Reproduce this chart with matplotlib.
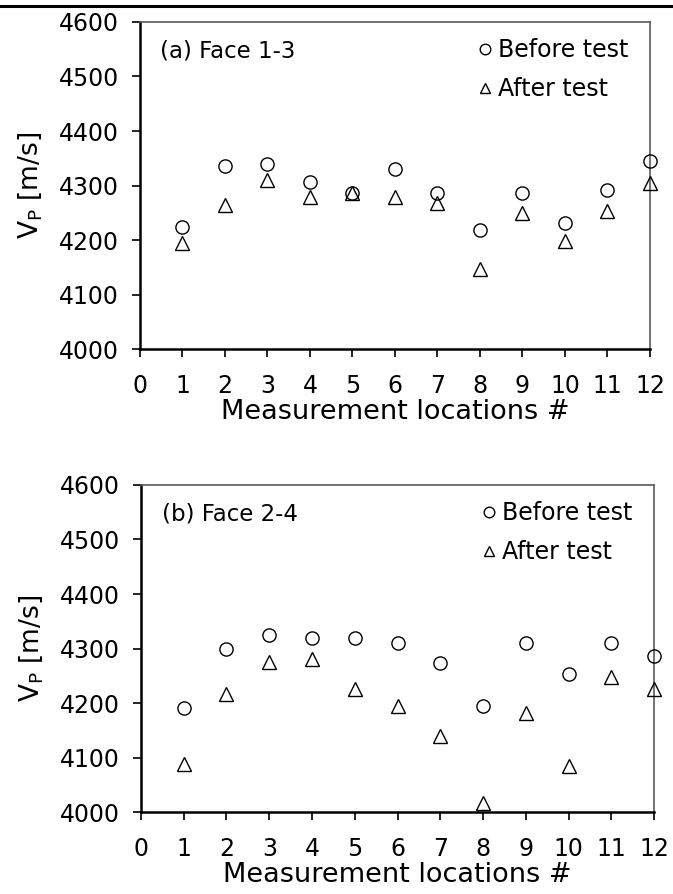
import matplotlib
matplotlib.use("Agg")
import matplotlib.pyplot as plt
from matplotlib.lines import Line2D

locations = list(range(1, 13))
face13_before = [4223, 4336, 4339, 4306, 4287, 4330, 4287, 4218, 4287, 4232, 4292, 4345]
face13_after = [4195, 4264, 4310, 4278, 4287, 4278, 4268, 4146, 4250, 4199, 4254, 4304]
face24_before = [4191, 4300, 4325, 4319, 4319, 4310, 4273, 4194, 4310, 4253, 4310, 4286]
face24_after = [4089, 4216, 4276, 4280, 4225, 4194, 4140, 4017, 4181, 4084, 4248, 4225]
xticks = list(range(0, 13))
yticks = [4000, 4100, 4200, 4300, 4400, 4500, 4600]
panel_titles = ["(a) Face 1-3", "(b) Face 2-4"]
legend_labels = ["Before test", "After test"]
xlabel = "Measurement locations #"
ylabel = r"V$_\mathrm{P}$ [m/s]"

plt.rcParams['font.family'] = ['DejaVu Sans']
plt.rcParams['mathtext.fontset'] = 'dejavusans'

fig = plt.figure(figsize=(6.73, 8.94), dpi=100)
positions = [[0.2080, 0.6096, 0.7578, 0.3658], [0.2095, 0.0917, 0.7623, 0.3658]]
datasets = [(face13_before, face13_after), (face24_before, face24_after)]

for pos, (bef, aft), title in zip(positions, datasets, panel_titles):
    ax = fig.add_axes(pos)
    ax.plot(locations, bef, linestyle='none', marker='o', markersize=9.5,
            markerfacecolor='none', markeredgecolor='black', markeredgewidth=1.0,
            label=legend_labels[0], clip_on=False, zorder=3)
    ax.plot(locations, aft, linestyle='none', marker='^', markersize=9.5,
            markerfacecolor='none', markeredgecolor='black', markeredgewidth=1.0,
            label=legend_labels[1], clip_on=False, zorder=3)
    ax.set_xlim(0, 12)
    ax.set_ylim(4000, 4600)
    ax.set_xticks(xticks)
    ax.set_yticks(yticks)
    ax.tick_params(axis='both', direction='out', length=6, width=1.2,
                   labelsize=17, colors='black')
    ax.tick_params(axis='x', pad=12)
    ax.tick_params(axis='y', pad=9)
    for s in ['left', 'bottom']:
        ax.spines[s].set_linewidth(1.8)
        ax.spines[s].set_color('black')
    for s in ['top', 'right']:
        ax.spines[s].set_linewidth(1.2)
        ax.spines[s].set_color('#5a5a5a')
    ax.set_xlabel(xlabel, fontsize=19.5, labelpad=1)
    ax.set_ylabel(ylabel, fontsize=19, labelpad=11)
    ax.text(0.04, 0.91, title, transform=ax.transAxes, fontsize=16.5,
            ha='left', va='center')
    ax.legend(loc='upper right', frameon=False, fontsize=17,
              handlelength=0.6, handletextpad=0.25, markerscale=0.8,
              labelspacing=0.65, borderaxespad=0.2, bbox_to_anchor=(0.985, 0.995))

fig.add_artist(Line2D([0, 1], [1 - 6 / 894, 1 - 6 / 894], color='black',
                      linewidth=2.2, transform=fig.transFigure))

fig.savefig("out.png", dpi=100)
